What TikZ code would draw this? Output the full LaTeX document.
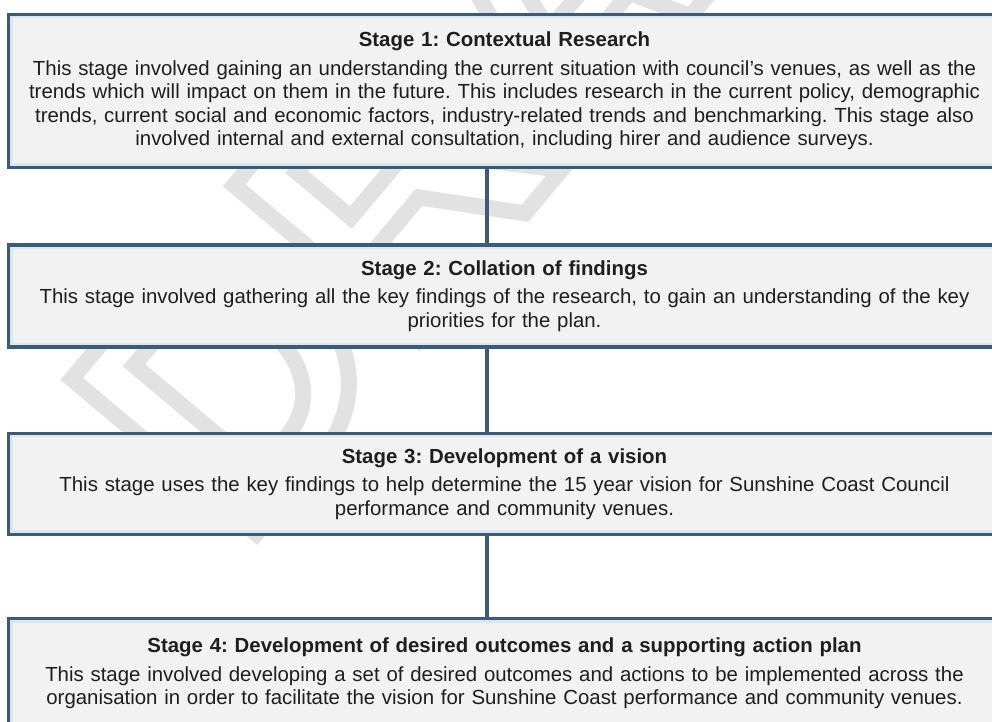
\documentclass[tikz,border=0pt]{standalone}
\usepackage{fontspec}
\setmainfont{Liberation Sans}
\usepackage{tikz}
\usetikzlibrary{positioning}
\definecolor{frameblue}{HTML}{3B5B78}
\definecolor{rimblue}{HTML}{DCE6EF}
\definecolor{boxgrey}{HTML}{F2F2F2}
\definecolor{inkgrey}{HTML}{1E1E1E}
\definecolor{wmgrey}{HTML}{E2E2E2}
\frenchspacing
% outlined letters for the watermark (stroke only)
\newcommand{\hollowtext}[1]{\special{pdf:literal direct 1 Tr 8 w}#1\special{pdf:literal direct 0 Tr 1 w}}
\tikzstyle{stage}=[rectangle,draw=frameblue,line width=1.7pt,fill=boxgrey,
  path picture={\draw[rimblue,line width=4pt] (path picture bounding box.south west)
    rectangle (path picture bounding box.north east);},
  text=inkgrey,text width=486pt,inner xsep=5pt,inner ysep=0pt,align=center,
  font=\fontsize{10.2}{11.75}\selectfont]
\tikzstyle{link}=[draw=frameblue,line width=1.6pt]
\tikzstyle{draft}=[rotate=50,text=wmgrey,inner sep=0pt,font=\fontsize{175}{175}\selectfont\bfseries]

\begin{document}
\begin{tikzpicture}[x=0.5pt,y=-0.5pt]
          \useasboundingbox (0,0) rectangle (992,722);

          % watermark behind the boxes
          \node[draft] (wm) at (530,20) {\hollowtext{DRAFT}};

          \coordinate (spine) at (487,0);

          \node[stage,minimum width=496pt,minimum height=76.5pt] (s1) at (504.5,91)
            {\textbf{Stage 1: Contextual Research}\\[2.5pt]
             This stage involved gaining an understanding the current situation with council's venues, as well as the\\
             trends which will impact on them in the future. This includes research in the current policy, demographic\\
             trends, current social and economic factors, industry-related trends and benchmarking. This stage also\\
             involved internal and external consultation, including hirer and audience surveys.};

          \node[stage,minimum width=496pt,minimum height=51pt] (s2) [below=37pt of s1]
            {\textbf{Stage 2: Collation of findings}\\[2.5pt]
             This stage involved gathering all the key findings of the research, to gain an understanding of the key\\
             priorities for the plan.};
          \path[link] (s1.south -| spine) edge (s2.north -| spine);

          \node[stage,minimum width=496pt,minimum height=50.5pt] (s3) [below=41.5pt of s2]
            {\textbf{Stage 3: Development of a vision}\\[2.5pt]
             This stage uses the key findings to help determine the 15 year vision for Sunshine Coast Council\\
             performance and community venues.};
          \path[link] (s2.south -| spine) edge (s3.north -| spine);

          \node[stage,minimum width=496pt,minimum height=55pt] (s4) [below=40.5pt of s3]
            {\textbf{Stage 4: Development of desired outcomes and a supporting action plan}\\[2.5pt]
             This stage involved developing a set of desired outcomes and actions to be implemented across the\\
             organisation in order to facilitate the vision for Sunshine Coast performance and community venues.};
          \path[link] (s3.south -| spine) edge (s4.north -| spine);
        \end{tikzpicture}
\end{document}
